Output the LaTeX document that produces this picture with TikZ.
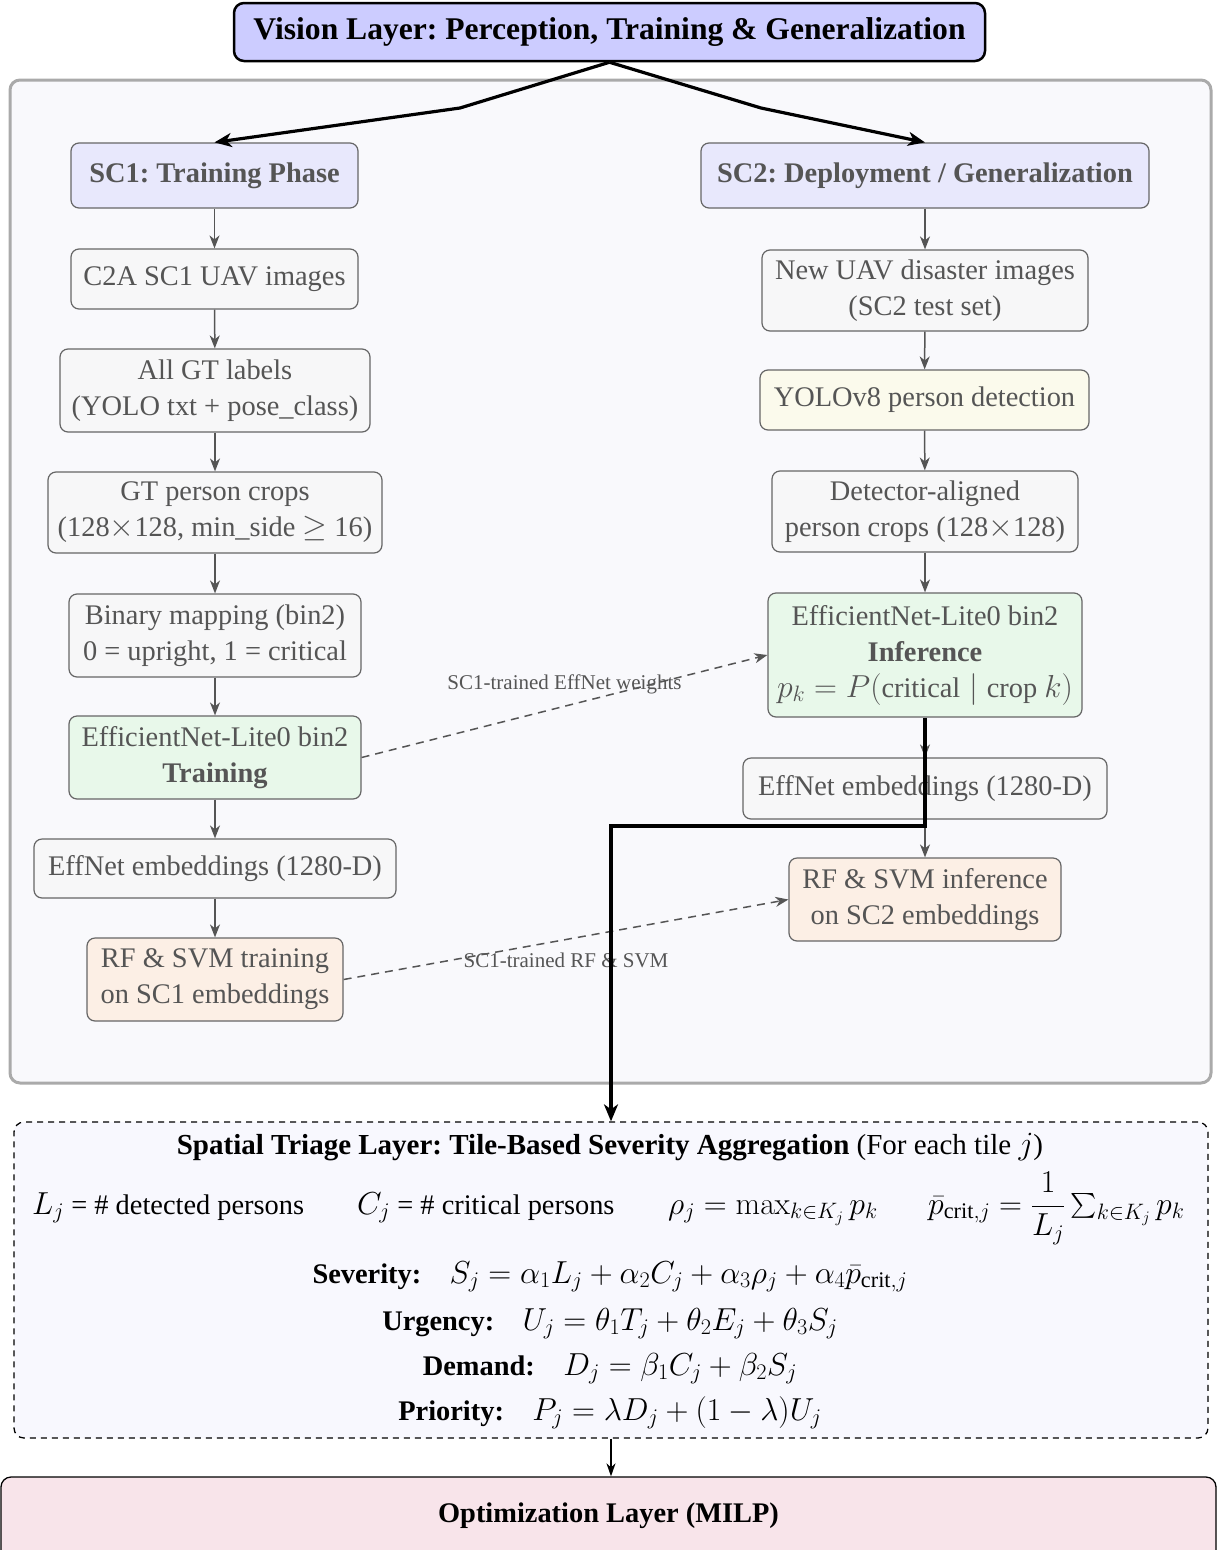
\RequirePackage{fix-cm}
\documentclass[tikz,border=0pt]{standalone}
\usepackage{amsmath}
\usepackage[no-math]{fontspec}
\setmainfont{Liberation Serif}
\DeclareMathSizes{28.4}{31.8}{22.3}{16}
\DeclareMathSizes{29}{32.4}{22.7}{16.3}
\frenchspacing
\usetikzlibrary{arrows.meta}
\definecolor{titlefill}{HTML}{CCCCFF}
\definecolor{scfill}{HTML}{E8E8FC}
\definecolor{grayfill}{HTML}{F7F7F8}
\definecolor{greenfill}{HTML}{E8F8EA}
\definecolor{yellowfill}{HTML}{FBFAEC}
\definecolor{peachfill}{HTML}{FCEFE5}
\definecolor{contfill}{HTML}{F9F9FC}
\definecolor{contline}{HTML}{AAAAAA}
\definecolor{triagefill}{HTML}{F8F8FE}
\definecolor{optfill}{HTML}{F8E4EA}
\definecolor{boxline}{HTML}{666666}
\definecolor{boxtext}{HTML}{555555}
\tikzset{
  mainfont/.style={font=\fontsize{28.4}{36}\selectfont},
  box/.style={mainfont, draw=boxline, line width=1.2pt, rounded corners=8pt,
    align=center, inner sep=0pt, text=boxtext},
  scbox/.style={box, fill=scfill, font=\fontsize{28.4}{36}\selectfont\bfseries},
  graybox/.style={box, fill=grayfill},
  greenbox/.style={box, fill=greenfill},
  yellowbox/.style={box, fill=yellowfill},
  peachbox/.style={box, fill=peachfill},
  garrow/.style={draw=boxtext, line width=1.5pt, -{Stealth[length=13pt,width=10pt,inset=4pt]}},
  darrow/.style={draw=boxtext, line width=1.5pt, dash pattern=on 8pt off 6pt, -{Stealth[length=13pt,width=10pt,inset=4pt]}},
  barrow/.style={draw=black, line width=3.2pt, -{Stealth[length=17pt,width=14pt,inset=5pt]}},
  tarrow/.style={draw=black, line width=1.5pt, -{Stealth[length=13pt,width=9pt,inset=4pt]}},
  lab/.style={font=\fontsize{21}{24}\selectfont, text=boxtext, inner sep=0pt},
  ttext/.style={mainfont, inner sep=0pt},
}
\begin{document}
\begin{tikzpicture}[x=1pt,y=-1pt]
\clip (0,0) rectangle (1217,1550);
\fill[white] (0,0) rectangle (1217,1550);

% container
\node[draw=contline, line width=3pt, fill=contfill, rounded corners=10pt,
  minimum width=1201pt, minimum height=1003pt, inner sep=0pt] (cont) at (610.5,581.5) {};

% title
\node[mainfont, font=\fontsize{31.6}{36}\selectfont\bfseries, draw=black, line width=2.5pt,
  fill=titlefill, rounded corners=10pt, inner sep=0pt,
  minimum width=751pt, minimum height=58pt] (title) at (609.5,32)
  {Vision Layer: Perception, Training \& Generalization};

% left column
\node[scbox, minimum width=287pt, minimum height=65pt] (sc1) at (214.5,175.5) {SC1: Training Phase};
\node[graybox, minimum width=287pt, minimum height=60pt] (l1) at (214.5,279) {C2A SC1 UAV images};
\node[graybox, minimum width=310pt, minimum height=83pt] (l2) at (215,390.5) {All GT labels\\(YOLO txt + pose\_class)};
\node[graybox, minimum width=334pt, minimum height=81pt] (l3) at (215,512.5) {GT person crops\\(128$\times$128, min\_side $\geq$ 16)};
\node[graybox, minimum width=292pt, minimum height=83pt] (l4) at (215,635.5) {Binary mapping (bin2)\\0 = upright, 1 = critical};
\node[greenbox, minimum width=292pt, minimum height=83pt] (l5) at (215,757.5) {EfficientNet-Lite0 bin2\\\textbf{Training}};
\node[graybox, minimum width=362pt, minimum height=59pt] (l6) at (215,868.5) {EffNet embeddings (1280-D)};
\node[peachbox, minimum width=256pt, minimum height=83pt] (l7) at (215,979.5) {RF \& SVM training\\on SC1 embeddings};

% right column
\node[scbox, minimum width=448pt, minimum height=65pt] (sc2) at (925,175.5) {SC2: Deployment / Generalization};
\node[graybox, minimum width=326pt, minimum height=81pt] (r1) at (925,290.5) {New UAV disaster images\\(SC2 test set)};
\node[yellowbox, minimum width=329pt, minimum height=60pt] (r2) at (924.5,400) {YOLOv8 person detection};
\node[graybox, minimum width=306pt, minimum height=81pt] (r3) at (925,511.5) {Detector-aligned\\person crops (128$\times$128)};
\node[greenbox, minimum width=314pt, minimum height=124pt] (r4) at (925,655) {EfficientNet-Lite0 bin2\\\textbf{Inference}\\$p_k = P(\text{critical} \mid \text{crop } k)$};
\node[graybox, minimum width=364pt, minimum height=61pt] (r5) at (925,788.5) {EffNet embeddings (1280-D)};
\node[peachbox, minimum width=272pt, minimum height=83pt] (r6) at (925,899.5) {RF \& SVM inference\\on SC2 embeddings};

% triage layer
\node[draw=black, line width=1.3pt, dash pattern=on 6pt off 5pt, fill=triagefill,
  rounded corners=10pt, inner sep=0pt, minimum width=1194pt, minimum height=316pt] (triage) at (611,1280) {};
\node[ttext, font=\fontsize{29}{36}\selectfont, anchor=base] (tt) at (610,1154) {\textbf{Spatial Triage Layer: Tile-Based Severity Aggregation} (For each tile $j$)};
\node[ttext, anchor=base west] (ta) at (32,1214) {$L_j$ = \# detected persons};
\node[ttext, anchor=base west] (tb) at (357,1214) {$C_j$ = \# critical persons};
\node[ttext, anchor=base west] (tc) at (668,1214) {$\rho_j = \max_{k \in K_j} p_k$};
\node[ttext, anchor=base west] (td) at (928,1214) {$\bar{p}_{\text{crit},j} = \dfrac{1}{L_j}\textstyle\sum_{k \in K_j} p_k$};
\node[ttext, anchor=base] (ts) at (610,1283) {\textbf{Severity:}\quad $S_j = \alpha_1 L_j + \alpha_2 C_j + \alpha_3 \rho_j + \alpha_4 \bar{p}_{\text{crit},j}$};
\node[ttext, anchor=base] (tu) at (610,1330) {\textbf{Urgency:}\quad $U_j = \theta_1 T_j + \theta_2 E_j + \theta_3 S_j$};
\node[ttext, anchor=base] (tdm) at (610,1375) {\textbf{Demand:}\quad $D_j = \beta_1 C_j + \beta_2 S_j$};
\node[ttext, anchor=base] (tp) at (610,1420) {\textbf{Priority:}\quad $P_j = \lambda D_j + (1-\lambda) U_j$};

% optimization layer
\node[draw=black, line width=1.3pt, fill=optfill, rounded corners=10pt, inner sep=0pt,
  minimum width=1215pt, minimum height=120pt] (opt) at (608.5,1537) {};
\node[ttext, font=\fontsize{28.4}{36}\selectfont\bfseries, anchor=base] (optt) at (608.5,1522) {Optimization Layer (MILP)};

% top arrows
\coordinate (bl) at (460,108);
\coordinate (br) at (761,108);
\draw[barrow] (title.south) -- (bl) -- (sc1.north);
\draw[barrow] (title.south) -- (br) -- (sc2.north);

% gray column arrows
\draw[garrow] (sc1) -- (l1);
\draw[garrow] (l1) -- (l2);
\draw[garrow] (l2) -- (l3);
\draw[garrow] (l3) -- (l4);
\draw[garrow] (l4) -- (l5);
\draw[garrow] (l5) -- (l6);
\draw[garrow] (l6) -- (l7);
\draw[garrow] (sc2) -- (r1);
\draw[garrow] (r1) -- (r2);
\draw[garrow] (r2) -- (r3);
\draw[garrow] (r3) -- (r4);
\draw[garrow] (r4) -- (r5);
\draw[garrow] (r5) -- (r6);

% dashed transfer arrows
\draw[darrow] (l5.east) -- node[lab, midway, yshift=22pt] (lw) {SC1-trained EffNet weights} (r4.west);
\draw[darrow] (l7.east) -- node[lab, midway, yshift=-21pt] (lr) {SC1-trained RF \& SVM} (r6.west);

% thick flow into triage
\coordinate (k1) at (925,826);
\coordinate (k2) at (611,826);
\draw[barrow] (r4.south) -- (k1) -- (k2) -- (triage.north);

% triage to optimization
\draw[tarrow] (triage.south) -- (triage.south |- opt.north);
\end{tikzpicture}
\end{document}
